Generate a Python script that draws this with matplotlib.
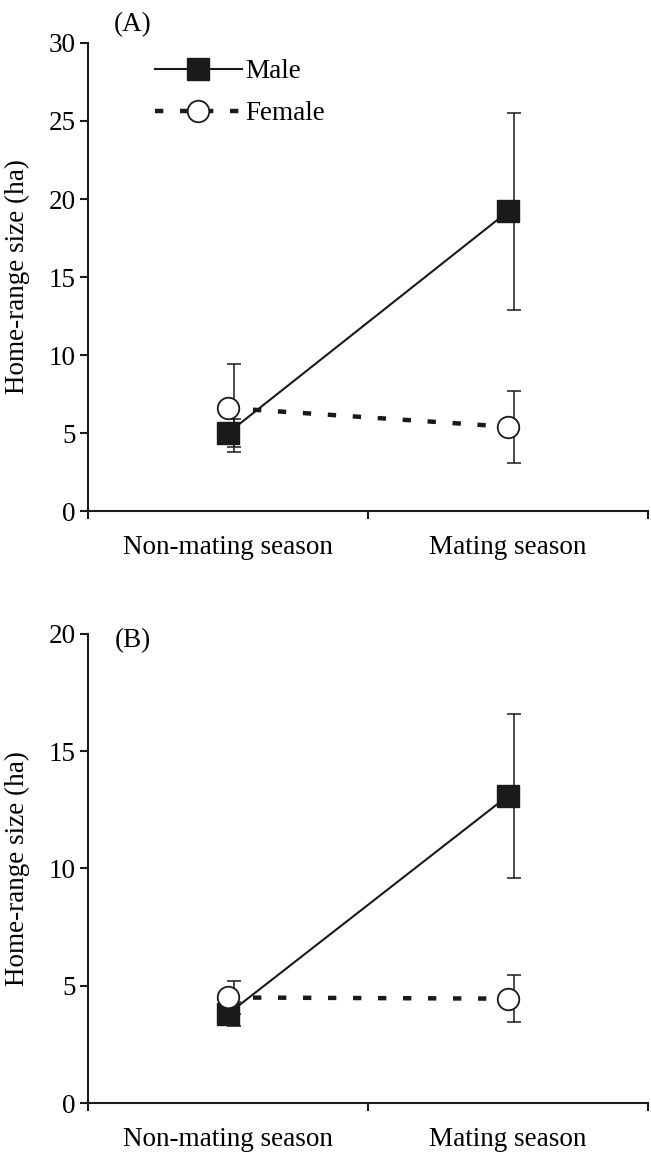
import matplotlib
matplotlib.use("Agg")
import matplotlib.pyplot as plt

# data (mean home-range size, ha, with error bars)
seasons = ["Non-mating season", "Mating season"]

male_a = [5.0, 19.2]
male_a_err = [0.9, 6.3]
female_a = [6.6, 5.4]
female_a_err = [2.8, 2.3]

male_b = [3.8, 13.1]
male_b_err = [0.5, 3.5]
female_b = [4.5, 4.45]
female_b_err = [0.7, 1.0]

# settings
plt.rcParams["font.family"] = ["Liberation Serif", "DejaVu Serif"]
plt.rcParams["lines.scale_dashes"] = False
fs = 19.5
ink = "#1a1a1a"

fig = plt.figure(figsize=(6.51, 11.59), dpi=100)
ax_a = fig.add_axes([0.1352, 0.5591, 0.8602, 0.4038])
ax_b = fig.add_axes([0.1352, 0.0483, 0.8602, 0.4047])

xpos = [0.5, 1.5]
err_x = [x + 0.02 for x in xpos]


def draw_panel(ax, male, male_err, female, female_err, ymax, letter, label_y):
    ax.errorbar(err_x, male, yerr=male_err, fmt="none", ecolor=ink,
                elinewidth=1.1, capsize=5, capthick=1.1, zorder=2)
    ax.errorbar(err_x, female, yerr=female_err, fmt="none", ecolor=ink,
                elinewidth=1.1, capsize=5, capthick=1.1, zorder=2)
    ax.plot(xpos, male, color=ink, lw=1.5, marker="s", ms=16.5,
            mfc=ink, mec=ink, label="Male", zorder=3)
    ax.plot(xpos, female, color=ink, lw=3.2, dashes=(6, 12), marker="o",
            ms=15.5, mfc="white", mec=ink, mew=1.3, label="Female", zorder=4)

    ax.set_xlim(0, 2)
    ax.set_ylim(0, ymax)
    ax.set_yticks(range(0, ymax + 1, 5))
    ax.set_xticks([0, 1, 2])
    ax.set_xticklabels([])
    ax.set_xticks(xpos, minor=True)
    ax.set_xticklabels(seasons, minor=True, fontsize=fs)
    ax.tick_params(axis="x", which="minor", length=0, pad=17)
    ax.tick_params(axis="both", which="major", direction="out", length=6,
                   width=1.5, color=ink, labelsize=fs, pad=3)
    for side in ["top", "right"]:
        ax.spines[side].set_visible(False)
    for side in ["left", "bottom"]:
        ax.spines[side].set_linewidth(1.5)
        ax.spines[side].set_color(ink)
    ax.set_ylabel("Home-range size (ha)", fontsize=fs)
    ax.yaxis.set_label_coords(-0.104, 0.5)
    ax.text(0.08, label_y, letter, transform=ax.transAxes, fontsize=fs,
            ha="center", va="center")


draw_panel(ax_a, male_a, male_a_err, female_a, female_a_err, 30, "(A)", 1.04)
draw_panel(ax_b, male_b, male_b_err, female_b, female_b_err, 20, "(B)", 0.985)

ax_a.legend(loc="upper left", bbox_to_anchor=(0.1, 0.988), frameon=False,
            fontsize=fs, handlelength=3.2, handletextpad=0.15,
            labelspacing=0.62, borderaxespad=0.0)

plt.savefig("out.png", dpi=100)
